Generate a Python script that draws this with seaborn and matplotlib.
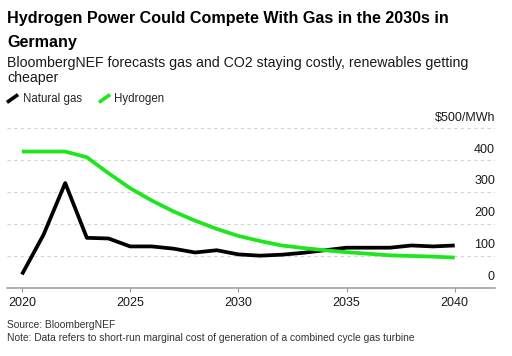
import numpy as np
import pandas as pd
import matplotlib
matplotlib.use("Agg")
import matplotlib.pyplot as plt
import matplotlib.transforms as mtransforms
from matplotlib.lines import Line2D
from matplotlib.path import Path
import seaborn as sns

# ---------------- data ----------------
years = list(range(2020, 2041))
natural_gas = [41, 166, 328, 156, 154, 129, 129, 122, 110, 117, 104,
               100, 103, 109, 117, 125, 125, 125, 132, 129, 132]
hydrogen = [427, 427, 427, 409, 359, 312, 273, 239, 210, 184, 162,
            146, 132, 124, 117, 111, 106, 101, 99, 97, 94]
series_names = ["Natural gas", "Hydrogen"]
series_colors = ["#000000", "#1de61d"]
y_ticks = [0, 100, 200, 300, 400, 500]
y_tick_labels = ["0", "100", "200", "300", "400", "$500/MWh"]
x_ticks = [2020, 2025, 2030, 2035, 2040]
x_tick_labels = ["2020", "2025", "2030", "2035", "2040"]

title_lines = ["Hydrogen Power Could Compete With Gas in the 2030s in", "Germany"]
subtitle_lines = ["BloombergNEF forecasts gas and CO2 staying costly, renewables getting",
                  "cheaper"]
source_text = "Source: BloombergNEF"
note_text = "Note: Data refers to short-run marginal cost of generation of a combined cycle gas turbine"

# ---------------- style ----------------
sns.set_theme(style="white")
plt.rcParams['font.family'] = ['Liberation Sans', 'DejaVu Sans']

df = pd.DataFrame({
    "year": years * 2,
    "value": natural_gas + hydrogen,
    "series": [series_names[0]] * len(years) + [series_names[1]] * len(years),
})

W, H = 512, 356
fig = plt.figure(figsize=(W / 100, H / 100), dpi=100)
fig.patch.set_facecolor("white")
ax = fig.add_axes([7 / W, 1 - 287.5 / H, (495 - 7) / W, (287.5 - 128.3) / H])

sns.lineplot(data=df, x="year", y="value", hue="series",
             palette=dict(zip(series_names, series_colors)),
             linewidth=2.7, ax=ax, legend=False, solid_capstyle="butt")

ax.set_xlim(2019.31, 2041.86)
ax.set_ylim(0, 500)
ax.set_xlabel("")
ax.set_ylabel("")

# grid
ax.yaxis.grid(True, color="#d4d4d4", linestyle=(0, (3, 3)), linewidth=0.8)
ax.xaxis.grid(False)
ax.set_axisbelow(True)

for s in ["left", "right", "top"]:
    ax.spines[s].set_visible(False)
ax.spines["bottom"].set_color("#9a9a9a")
ax.spines["bottom"].set_linewidth(1.1)

# x ticks
ax.set_xticks(x_ticks)
ax.set_xticklabels(x_tick_labels)
ax.tick_params(axis="x", bottom=True, direction="out", length=3, width=0.8,
               color="#9a9a9a", pad=4, labelsize=9, labelcolor="#1a1a1a")

# y ticks (inside, right, above gridlines)
ax.set_yticks(y_ticks)
ax.set_yticklabels(y_tick_labels)
ax.yaxis.tick_right()
ax.tick_params(axis="y", left=False, right=False, length=0, pad=0,
               labelleft=False, labelright=True, labelsize=9, labelcolor="#1a1a1a")
offset = mtransforms.ScaledTranslation(0, 10.5 / 100, fig.dpi_scale_trans)
for lab in ax.get_yticklabels():
    lab.set_ha("right")
    lab.set_va("center")
    lab.set_transform(lab.get_transform() + offset)

# legend
slash = Path([(-1, -0.7), (1, 0.7)], [Path.MOVETO, Path.LINETO])
handles = [Line2D([], [], linestyle="none", marker=slash, markersize=8,
                  markeredgewidth=2.6, color=c) for c in series_colors]
fig.legend(handles, series_names, loc="center left",
           bbox_to_anchor=(6.6 / W, 1 - 99 / H), ncol=2, frameon=False,
           fontsize=8.3, handlelength=1.0, handletextpad=0.4,
           columnspacing=1.4, borderaxespad=0, borderpad=0)

# titles
fig.text(7 / W, 1 - 22.7 / H, title_lines[0], fontsize=11.6, fontweight="bold",
         va="baseline", ha="left", color="#000000")
fig.text(7 / W, 1 - 46.5 / H, title_lines[1], fontsize=11.6, fontweight="bold",
         va="baseline", ha="left", color="#000000")
fig.text(7 / W, 1 - 66.7 / H, subtitle_lines[0], fontsize=10.2, va="baseline",
         ha="left", color="#1a1a1a")
fig.text(7 / W, 1 - 81.7 / H, subtitle_lines[1], fontsize=10.2, va="baseline",
         ha="left", color="#1a1a1a")

# footer
fig.text(7 / W, 1 - 328 / H, source_text, fontsize=7.4, va="baseline",
         ha="left", color="#333333")
fig.text(7 / W, 1 - 340.7 / H, note_text, fontsize=7.4, va="baseline",
         ha="left", color="#333333")

fig.savefig("out.png", dpi=100, facecolor="white")
